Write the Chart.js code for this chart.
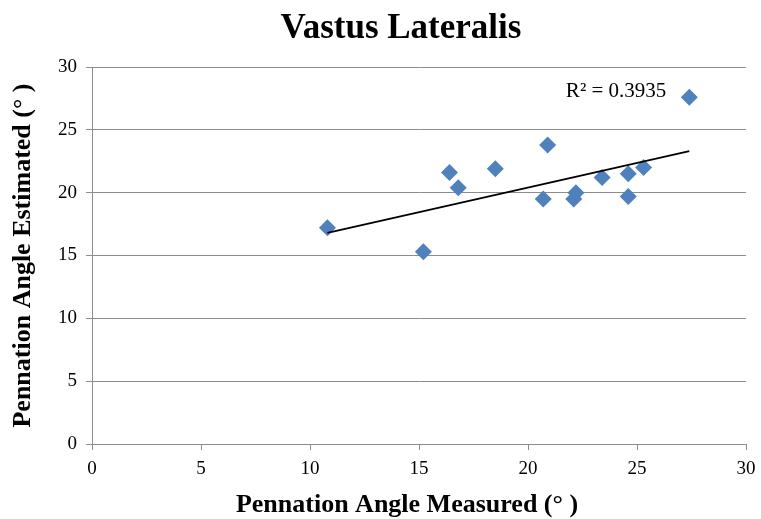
<!DOCTYPE html>
<html>
<head>
<meta charset="utf-8">
<script src="https://cdn.jsdelivr.net/npm/chart.js@4/dist/chart.umd.min.js"></script>
<style>
  html, body { margin: 0; padding: 0; background: #fff; }
  #wrap { width: 761px; height: 519px; }
</style>
</head>
<body>
<div id="wrap"><canvas id="vlChart" width="761" height="519"></canvas></div>
<script>
"use strict";

// measured vs estimated pennation angle (degrees)
var measured  = [10.8, 15.2, 16.4, 16.8, 18.5, 20.9, 20.7, 22.1, 22.2, 23.4, 24.6, 24.6, 25.3, 27.4];
var estimated = [17.2, 15.3, 21.6, 20.4, 21.9, 23.8, 19.5, 19.5, 20.0, 21.2, 21.5, 19.7, 22.0, 27.6];

// linear trendline end points
var trendX = [10.8, 27.4];
var trendY = [16.8, 23.3];

var chartTitle = 'Vastus Lateralis';
var xTitle = 'Pennation Angle Measured (\u00b0 )';
var yTitle = 'Pennation Angle Estimated (\u00b0 )';
var rSquaredText = 'R\u00b2 = 0.3935';
var rSquaredAt = [24.04, 27.6];

var serif = "'Liberation Serif', 'Times New Roman', serif";
var gridGrey = '#8c8c8c';

var scatterPoints = measured.map(function (x, i) { return { x: x, y: estimated[i] }; });
var trendPoints = trendX.map(function (x, i) { return { x: x, y: trendY[i] }; });

// title and x title sit centred on the picture, a bit left of the plot box centre
var extraText = {
    id: 'extraText',
    afterDatasetsDraw: function (chart) {
        var c = chart.ctx;
        c.save();
        c.fillStyle = '#000';
        c.textBaseline = 'alphabetic';
        c.textAlign = 'center';

        c.font = 'bold 35px ' + serif;
        c.fillText(chartTitle, 401, 38);

        c.font = 'bold 26px ' + serif;
        c.fillText(xTitle, 407, 512);

        c.font = '21px ' + serif;
        c.fillText(rSquaredText,
            chart.scales.x.getPixelForValue(rSquaredAt[0]),
            chart.scales.y.getPixelForValue(rSquaredAt[1]));
        c.restore();
    }
};

document.addEventListener('DOMContentLoaded', function () {
    var ctx = document.getElementById('vlChart').getContext('2d');

    new Chart(ctx, {
        type: 'scatter',
        data: {
            datasets: [{
                label: 'Vastus Lateralis',
                data: scatterPoints,
                pointStyle: 'rectRot',
                pointRadius: 8.5,
                pointHoverRadius: 8.5,
                backgroundColor: '#4f81bd',
                borderColor: '#4f81bd',
                borderWidth: 0,
                order: 2
            }, {
                label: 'Linear',
                type: 'line',
                data: trendPoints,
                borderColor: '#000',
                borderWidth: 1.75,
                pointRadius: 0,
                fill: false,
                order: 1
            }]
        },
        options: {
            responsive: false,
            animation: false,
            layout: {
                padding: { left: 0, right: 15, top: 67, bottom: 0 }
            },
            scales: {
                x: {
                    type: 'linear',
                    min: 0,
                    max: 30,
                    ticks: {
                        stepSize: 5,
                        color: '#000',
                        padding: 8,
                        font: { size: 19, family: serif }
                    },
                    grid: {
                        drawOnChartArea: false,
                        drawTicks: true,
                        tickLength: 6,
                        color: gridGrey
                    },
                    border: { color: gridGrey, width: 1 },
                    title: { display: false },
                    afterFit: function (scale) {
                        scale.height = 75;
                        scale.paddingRight = 0;
                    }
                },
                y: {
                    min: 0,
                    max: 30,
                    ticks: {
                        stepSize: 5,
                        color: '#000',
                        padding: 9,
                        font: { size: 19, family: serif }
                    },
                    grid: {
                        color: gridGrey,
                        tickLength: 6
                    },
                    border: { color: gridGrey, width: 1 },
                    title: {
                        display: true,
                        text: yTitle,
                        color: '#000',
                        padding: { top: 8, bottom: 0 },
                        font: { size: 26, weight: 'bold', family: serif }
                    },
                    afterFit: function (scale) { scale.width = 92; }
                }
            },
            plugins: {
                legend: { display: false },
                tooltip: { enabled: false },
                title: { display: false }
            }
        },
        plugins: [extraText]
    });
});
</script>
</body>
</html>
